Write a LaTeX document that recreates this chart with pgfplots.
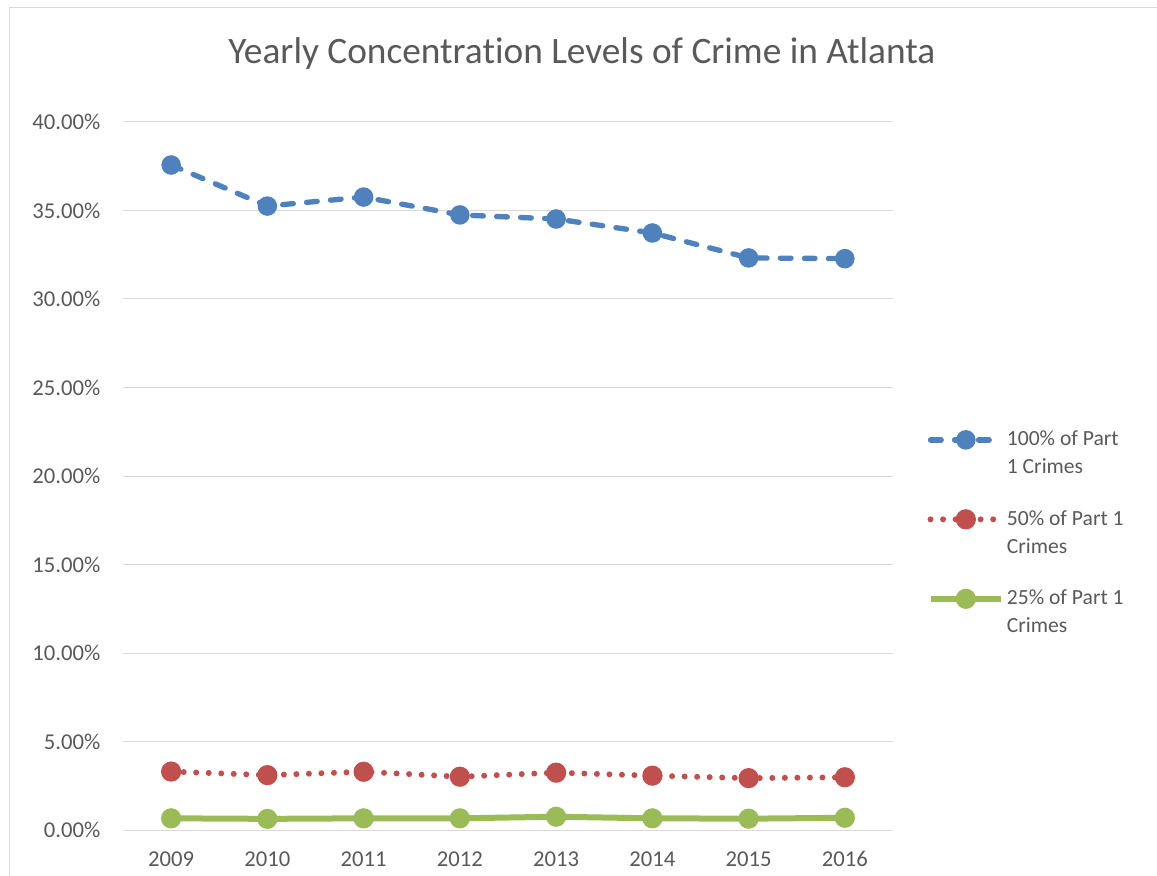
\documentclass[border=0pt]{standalone}
\usepackage{pgfplots}
\pgfplotsset{compat=1.18}
\usepackage{fontspec}
\setmainfont{Carlito}[RawFeature=-liga]
\definecolor{cblue}{HTML}{4F81BD}
\definecolor{cred}{HTML}{C0504D}
\definecolor{cgreen}{HTML}{9BBB59}
\definecolor{ctext}{HTML}{595959}
\definecolor{cgrid}{HTML}{D9D9D9}
\begin{document}
\begin{tikzpicture}
\begin{axis}[
  name=ax,
  width=577.5pt, height=531pt, scale only axis,
  xmin=-0.5, xmax=7.5, ymin=0, ymax=40,
  xtick={0,...,7},
  xticklabels={2009,2010,2011,2012,2013,2014,2015,2016},
  ytick={0,5,...,40},
  yticklabels={0.00\%,5.00\%,10.00\%,15.00\%,20.00\%,25.00\%,30.00\%,35.00\%,40.00\%},
  ymajorgrids,
  grid style={cgrid, line width=0.75pt},
  axis x line*=bottom, axis y line*=left,
  x axis line style={cgrid, line width=0.75pt, -},
  y axis line style={draw=none},
  major tick length=0pt,
  tick style={draw=none},
  tick label style={font=\fontsize{17}{20}\selectfont, text=ctext},
  xticklabel style={yshift=-12.5pt},
  yticklabel style={xshift=-13.5pt},
  title={Yearly Concentration Levels of Crime in Atlanta},
  title style={at={(axis description cs:0.596,1.086)}, anchor=center, font=\fontsize{28}{32}\selectfont, text=ctext},
  legend style={at={(axis description cs:1.0445,0.568)}, anchor=north west, draw=none, fill=none, inner sep=0pt,
    row sep=22pt, font=\fontsize{16.2}{21}\selectfont, text=ctext, nodes={align=left}},
  legend cell align=left,
  /tikz/every odd column/.append style={column sep=0pt},
  legend image code/.code={\draw[yshift=10pt,mark repeat=2,mark phase=2,#1] plot coordinates {(0pt,0pt) (26.5pt,0pt) (53pt,0pt)};},
  clip=false,
]
\addplot[cblue, line width=4pt, line cap=round, dash pattern=on 8pt off 10pt,
  mark=*, mark size=5.3pt, mark options={solid, draw=none, fill=cblue}]
  coordinates {(0,37.57) (1,35.25) (2,35.76) (3,34.75) (4,34.52) (5,33.73) (6,32.32) (7,32.28)};
\addlegendentry{100\% of Part\\1 Crimes}
\addplot[cred, line width=4.5pt, line cap=round, dash pattern=on 0pt off 9.4pt,
  mark=*, mark size=5.3pt, mark options={solid, draw=none, fill=cred}]
  coordinates {(0,3.30) (1,3.10) (2,3.29) (3,3.01) (4,3.24) (5,3.07) (6,2.93) (7,2.98)};
\addlegendentry{50\% of Part 1\\Crimes}
\addplot[cgreen, line width=4.5pt,
  mark=*, mark size=5.3pt, mark options={solid, draw=none, fill=cgreen}]
  coordinates {(0,0.66) (1,0.63) (2,0.66) (3,0.66) (4,0.75) (5,0.66) (6,0.64) (7,0.69)};
\addlegendentry{25\% of Part 1\\Crimes}
\end{axis}
\path[use as bounding box] ([xshift=-92.25pt,yshift=-33.75pt]ax.south west) rectangle ([xshift=198pt,yshift=91.5pt]ax.north east);
\draw[cgrid, line width=0.75pt] ([xshift=-85pt,yshift=-40pt]ax.south west) -- ([xshift=-85pt,yshift=86pt]ax.north west) -- ([xshift=210pt,yshift=86pt]ax.north east);
\end{tikzpicture}
\end{document}
